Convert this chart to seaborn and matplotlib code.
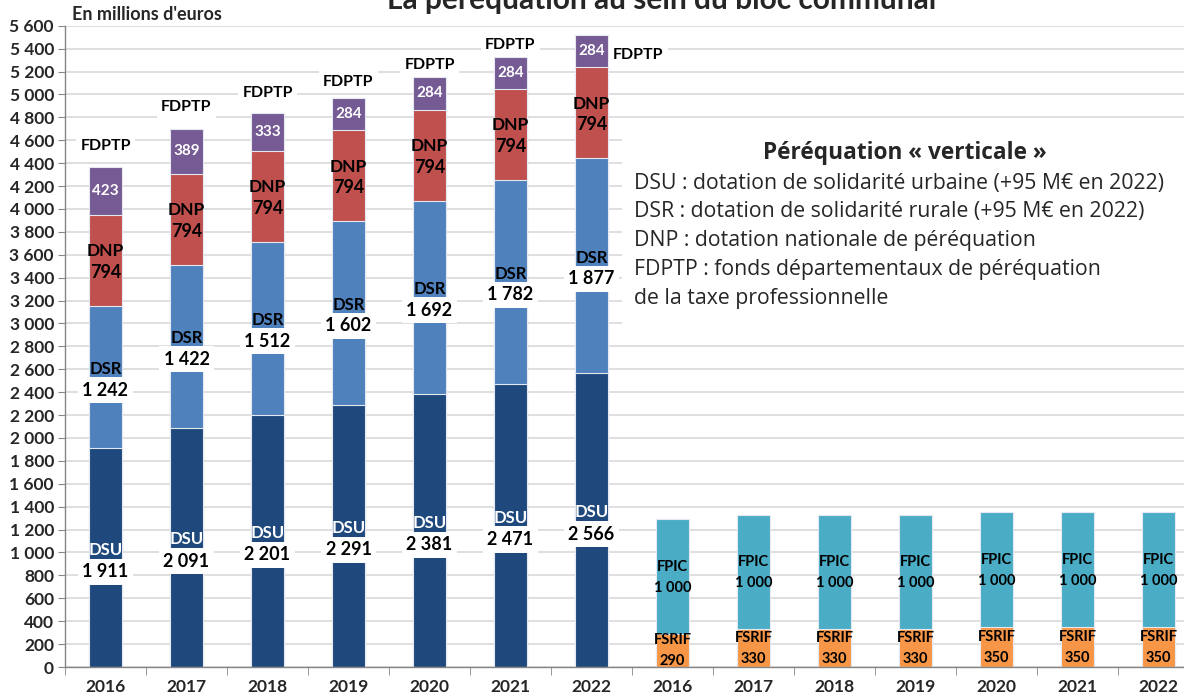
import pandas as pd
import matplotlib
matplotlib.use("Agg")
import matplotlib.pyplot as plt
import seaborn as sns
from matplotlib.patches import Rectangle

# data (millions d'euros)
years = ["2016", "2017", "2018", "2019", "2020", "2021", "2022"]
dsu = [1911, 2091, 2201, 2291, 2381, 2471, 2566]
dsr = [1242, 1422, 1512, 1602, 1692, 1782, 1877]
dnp = [794, 794, 794, 794, 794, 794, 794]
fdptp = [423, 389, 333, 284, 284, 284, 284]
fsrif = [290, 330, 330, 330, 350, 350, 350]
fpic = [1000, 1000, 1000, 1000, 1000, 1000, 1000]

# offset (pixels) of the FDPTP name relative to the top of each bar
fdptp_name_offsets = [(0, 21), (0, 22), (0, 20), (0, 16), (0, 12), (0, 12), (47, -20)]

c_dsu, c_dsr, c_dnp, c_fdptp = "#1f497d", "#4f81bd", "#c0504d", "#765a94"
c_fsrif, c_fpic = "#f79646", "#4bacc6"


def fmt(v):
    return f"{v:,}".replace(",", " ")


sns.set_style("white")
plt.rcParams["font.family"] = ["Lato", "DejaVu Sans"]

vert = ["v" + y for y in years]
hori = ["h" + y for y in years]
order = vert + hori

dv = pd.DataFrame({"cat": vert, "DSU": dsu, "DSR": dsr, "DNP": dnp, "FDPTP": fdptp})
dv["c1"] = dv["DSU"]
dv["c2"] = dv["c1"] + dv["DSR"]
dv["c3"] = dv["c2"] + dv["DNP"]
dv["c4"] = dv["c3"] + dv["FDPTP"]

dh = pd.DataFrame({"cat": hori, "FSRIF": fsrif, "FPIC": fpic})
dh["c1"] = dh["FSRIF"]
dh["c2"] = dh["c1"] + dh["FPIC"]

fig = plt.figure(figsize=(11.84, 6.99), dpi=100)
ax = fig.add_axes([65 / 1184, 32 / 699, 1134 / 1184, 641.3 / 699])

bar_kw = dict(order=order, width=0.41, saturation=1, errorbar=None,
              edgecolor="#e4e9f1", linewidth=0.8, ax=ax, zorder=2)
for col, color in [("c4", c_fdptp), ("c3", c_dnp), ("c2", c_dsr), ("c1", c_dsu)]:
    sns.barplot(data=dv, x="cat", y=col, color=color, **bar_kw)
for col, color in [("c2", c_fpic), ("c1", c_fsrif)]:
    sns.barplot(data=dh, x="cat", y=col, color=color, **bar_kw)

ax.set_xlabel("")
ax.set_ylabel("")
ax.set_xlim(-0.5, 13.5)
ax.set_ylim(0, 5600)
ax.set_yticks(range(0, 5601, 200))
ax.set_yticklabels([fmt(v) for v in range(0, 5601, 200)], fontsize=12.5, fontweight="bold")
ax.set_xticks(range(14))
ax.set_xticklabels(years + years, fontsize=12.5, fontweight="bold")
ax.set_xticks([i - 0.5 for i in range(15)], minor=True)
ax.tick_params(axis="x", which="major", length=0, pad=9)
ax.tick_params(axis="x", which="minor", bottom=True, length=6, color="#868686", direction="out")
ax.tick_params(axis="y", left=True, length=5, color="#868686", direction="out", pad=3)
ax.yaxis.grid(True, color="#d9d9d9", linewidth=1.2)
ax.set_axisbelow(True)
for s in ["top", "right"]:
    ax.spines[s].set_visible(False)
for s in ["left", "bottom"]:
    ax.spines[s].set_color("#868686")
    ax.spines[s].set_linewidth(1.0)


def lab(x, y, s, dx=0, dy=0, size=11.5, color="black", box=False):
    kw = {}
    if box:
        kw["bbox"] = dict(boxstyle="square,pad=0.25", fc="white", ec="none")
    ax.annotate(s, (x, y), xytext=(dx, dy), textcoords="offset pixels",
                ha="center", va="center", fontsize=size, fontweight="bold",
                color=color, zorder=5, **kw)


for i in range(len(years)):
    r = dv.iloc[i]
    lab(i, r["DSU"] / 2, "DSU", dy=8, size=12, color="white")
    lab(i, r["DSU"] / 2, fmt(r["DSU"]), dy=-14, size=13, box=True)
    lab(i, r["c1"] + r["DSR"] / 2, "DSR", dy=8, size=12)
    lab(i, r["c1"] + r["DSR"] / 2, fmt(r["DSR"]), dy=-13, size=13, box=True)
    lab(i, r["c2"] + r["DNP"] / 2, "DNP", dy=9, size=12.5)
    lab(i, r["c2"] + r["DNP"] / 2, fmt(r["DNP"]), dy=-12, size=13)
    lab(i, r["c3"] + r["FDPTP"] / 2, fmt(r["FDPTP"]), size=11, color="white")
    dx, dy = fdptp_name_offsets[i]
    lab(i, r["c4"], "FDPTP", dx=dx, dy=dy, size=11.5, box=True)

for i in range(len(years)):
    r = dh.iloc[i]
    x = i + 7
    lab(x, r["FSRIF"] / 2, "FSRIF", dy=10, size=10.5)
    lab(x, r["FSRIF"] / 2, fmt(r["FSRIF"]), dy=-11, size=10.5)
    lab(x, r["c1"] + r["FPIC"] / 2, "FPIC", dy=10, size=10.5)
    lab(x, r["c1"] + r["FPIC"] / 2, fmt(r["FPIC"]), dy=-11, size=10.5)

# white panel behind the definitions
fig.add_artist(Rectangle((622 / 1184, 1 - 335 / 699), 562 / 1184, 207 / 699,
                         transform=fig.transFigure, fc="white", ec="none", zorder=3))

fig.text(905 / 1184, 1 - 153 / 699, "Péréquation « verticale »", ha="center", va="center",
         fontsize=16.3, fontweight="bold", family=["Open Sans", "DejaVu Sans"], zorder=4)
legend_lines = [
    "DSU : dotation de solidarité urbaine (+95 M€ en 2022)",
    "DSR : dotation de solidarité rurale (+95 M€ en 2022)",
    "DNP : dotation nationale de péréquation",
    "FDPTP : fonds départementaux de péréquation",
    "de la taxe professionnelle",
]
for k, line in enumerate(legend_lines):
    fig.text(634 / 1184, 1 - (183 + 28.8 * k) / 699, line, ha="left", va="center",
             fontsize=15.3, family=["Open Sans", "DejaVu Sans"], zorder=4)

fig.text(72 / 1184, 1 - 15 / 699, "En millions d'euros", ha="left", va="center",
         fontsize=13, fontweight="bold")
# title is cropped at the top edge, as in the original export
fig.text(662 / 1184, 1 - 9 / 699, "La péréquation au sein du bloc communal", ha="center",
         va="baseline", fontsize=21.5, fontweight="bold")

fig.savefig("out.png", dpi=100)
